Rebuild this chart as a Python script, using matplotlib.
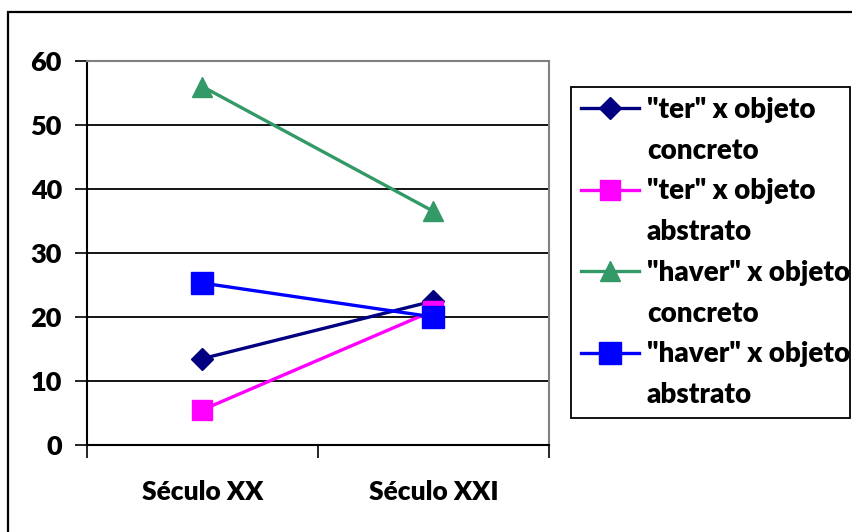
import matplotlib
matplotlib.use('Agg')
import matplotlib.pyplot as plt
from matplotlib.patches import Rectangle
from matplotlib.lines import Line2D

plt.rcParams['font.family'] = ['Lato', 'DejaVu Sans']
plt.rcParams['font.weight'] = 'heavy'

periodos = ['Século XX', 'Século XXI']
series = [('"ter" x objeto', 'concreto'), ('"ter" x objeto', 'abstrato'),
          ('"haver" x objeto', 'concreto'), ('"haver" x objeto', 'abstrato')]
ter_concreto = [13.5, 22.5]
ter_abstrato = [5.5, 21]
haver_concreto = [56, 36.5]
haver_abstrato = [25.3, 20]

valores = [ter_concreto, ter_abstrato, haver_concreto, haver_abstrato]
cores = ['#000080', '#ff00ff', '#339966', '#0000ff']
marcadores = ['D', 's', '^', 's']
tamanhos = [11, 14.5, 15, 16]

W, H = 853, 532
fig = plt.figure(figsize=(W / 100, H / 100), dpi=100)
ax = fig.add_axes([87 / W, 1 - 445 / H, (549 - 87) / W, (445 - 61) / H])

# moldura externa do grafico
fig.patches.append(Rectangle((8 / W, -0.1), 1.1, 1 - 12 / H + 0.1,
                             transform=fig.transFigure, fill=False,
                             edgecolor='black', lw=1.6))

xs = [0.5, 1.5]
handles, labels = [], []
vazio = Line2D([], [], linestyle='none', marker='none')
for v, c, m, ms, lab in zip(valores, cores, marcadores, tamanhos, series):
    l, = ax.plot(xs, v, color=c, marker=m, markersize=ms, lw=2.4,
                 clip_on=False, zorder=3)
    # cada serie ocupa duas linhas na legenda, marcador na primeira
    handles += [l, vazio]
    labels += list(lab)

ax.set_xlim(0, 2)
ax.set_ylim(0, 60)
ax.set_yticks(range(0, 61, 10))
ax.set_xticks([0, 1, 2])
ax.set_xticklabels([])
ax.set_xticks(xs, periodos, minor=True)
ax.tick_params(axis='x', which='minor', length=0, pad=25, labelsize=19)
ax.tick_params(axis='x', which='major', length=9, width=1.2, direction='out')
ax.tick_params(axis='y', length=9, width=1.2, pad=9, labelsize=19.5)

for y in range(10, 60, 10):
    ax.axhline(y, color='black', lw=1.3, zorder=1)
for s in ax.spines.values():
    s.set_linewidth(1.5)
ax.spines['top'].set_color('#808080')
ax.spines['right'].set_color('#808080')

leg = fig.legend(handles=handles, labels=labels, loc='upper left',
                 bbox_to_anchor=(571 / W, 1 - 87 / H, 279 / W, 0),
                 mode='expand', fancybox=False, edgecolor='black',
                 framealpha=1, fontsize=20, handlelength=2.1,
                 handletextpad=0.27, labelspacing=0.53, borderpad=0.36,
                 borderaxespad=0)
leg.get_frame().set_linewidth(1.3)

fig.savefig('out.png', dpi=100)
